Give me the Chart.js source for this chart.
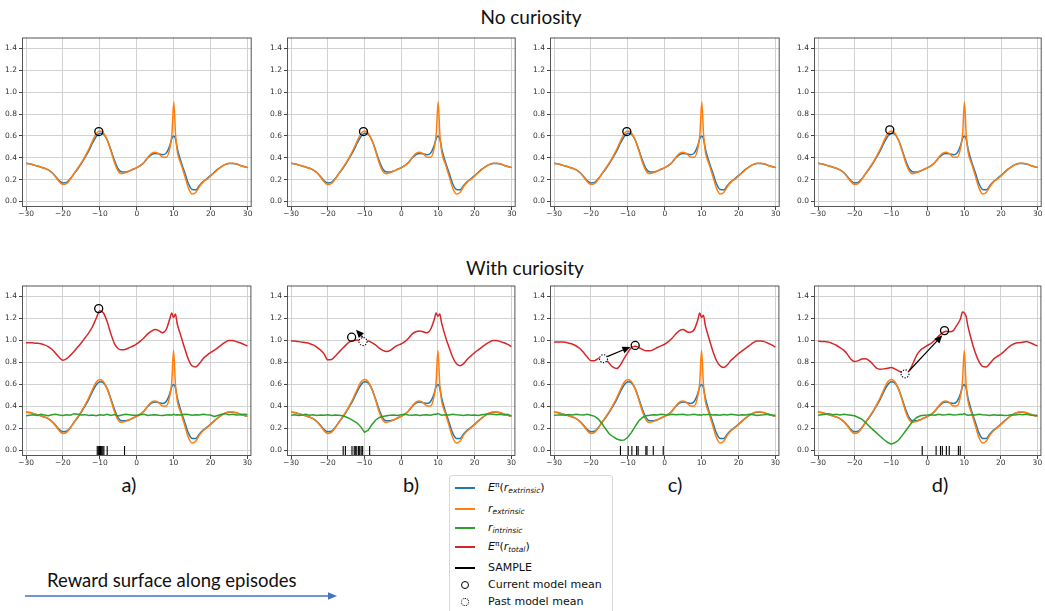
<!DOCTYPE html>
<html>
<head>
<meta charset="utf-8">
<script src="https://cdn.jsdelivr.net/npm/chart.js@4.4.1/dist/chart.umd.min.js"></script>
<style>
  body { margin:0; width:1045px; height:611px; overflow:hidden; background:#fff; position:relative; font-family:"DejaVu Sans", sans-serif; }
  .panel { position:absolute; }
  .big { position:absolute; font-family:Lato, "Open Sans", sans-serif; color:#111; white-space:nowrap; line-height:1; }
  .mid { transform:translateX(-50%); }
  #legend { position:absolute; left:449px; top:475px; width:164px; height:140px; border:1px solid #d8d8d8; border-radius:3px; background:#fff; box-sizing:border-box; }
  .row { position:absolute; left:0; font-size:11px; line-height:14px; color:#111; white-space:nowrap; }
  .row .h { position:absolute; left:5px; top:6px; width:20px; height:1.5px; }
  .row .t { position:absolute; left:38px; top:0; }
  .row .c { position:absolute; left:11px; top:3px; width:6px; height:6px; border-radius:50%; border:1.3px solid #000; }
  .row .c.dot { border-style:dotted; }
  sup, sub { font-size:7.5px; position:relative; vertical-align:baseline; }
  sup { top:-4px; }
  sub { top:2px; font-style:italic; }
</style>
</head>
<body>
<div class="big mid" style="left:531px;top:7px;font-size:19px">No curiosity</div>
<div class="big mid" style="left:525px;top:258px;font-size:19px">With curiosity</div>
<div class="big mid" style="left:129px;top:474px;font-size:20px">a)</div>
<div class="big mid" style="left:411px;top:474px;font-size:20px">b)</div>
<div class="big mid" style="left:675px;top:474px;font-size:20px">c)</div>
<div class="big mid" style="left:940px;top:474px;font-size:20px">d)</div>
<div class="big" style="left:47px;top:571px;font-size:18.5px">Reward surface along episodes</div>
<svg style="position:absolute;left:0;top:588px" width="345" height="16">
  <line x1="25" y1="8" x2="329" y2="8" stroke="#4472c4" stroke-width="1.3"/>
  <polygon points="337,8 328,4.3 328,11.7" fill="#4472c4"/>
</svg>

<div id="legend">
  <div class="row" style="top:5px"><div class="h" style="background:#1f77b4"></div><div class="t"><i>E</i><sup>π</sup>(<i>r</i><sub>extrinsic</sub>)</div></div>
  <div class="row" style="top:26px"><div class="h" style="background:#ff7f0e"></div><div class="t"><i>r</i><sub>extrinsic</sub></div></div>
  <div class="row" style="top:45px"><div class="h" style="background:#2ca02c"></div><div class="t"><i>r</i><sub>intrinsic</sub></div></div>
  <div class="row" style="top:64px"><div class="h" style="background:#d62728"></div><div class="t"><i>E</i><sup>π</sup>(<i>r</i><sub>total</sub>)</div></div>
  <div class="row" style="top:85px"><div class="h" style="background:#000"></div><div class="t">SAMPLE</div></div>
  <div class="row" style="top:102px"><div class="c"></div><div class="t">Current model mean</div></div>
  <div class="row" style="top:119px"><div class="c dot"></div><div class="t">Past model mean</div></div>
</div>

<script>
// abscissa shared by all curves (extra points around the spike at 10)
const xs = [-30,-29,-28,-27,-26,-25,-24,-23,-22,-21,
  -20,-19,-18,-17,-16,-15,-14,-13,-12,-11,
  -10,-9,-8,-7,-6,-5,-4,-3,-2,-1,
  0,1,2,3,4,5,6,7,8,9,
  9.5,10,10.5,
  11,12,13,14,15,16,17,18,19,20,
  21,22,23,24,25,26,27,28,29,30];

// E[r_extrinsic] (blue) and r_extrinsic (orange), same in every panel
const eExt = [0.350,0.345,0.335,0.325,0.315,0.305,0.290,0.265,0.230,0.190,
  0.170,0.175,0.210,0.255,0.300,0.350,0.405,0.465,0.535,0.595,
  0.625,0.615,0.560,0.470,0.370,0.295,0.270,0.270,0.280,0.295,
  0.310,0.330,0.360,0.400,0.430,0.440,0.435,0.428,0.445,0.520,
  0.580,0.600,0.570,
  0.480,0.360,0.260,0.160,0.110,0.108,0.150,0.185,0.210,0.240,
  0.270,0.298,0.322,0.340,0.348,0.348,0.342,0.330,0.320,0.310];
const rExt = [0.350,0.345,0.335,0.325,0.315,0.305,0.290,0.265,0.225,0.180,
  0.155,0.165,0.205,0.255,0.305,0.355,0.415,0.480,0.555,0.620,
  0.645,0.625,0.560,0.460,0.350,0.275,0.255,0.265,0.280,0.295,
  0.310,0.330,0.360,0.405,0.440,0.450,0.435,0.405,0.405,0.500,
  0.620,0.910,0.600,
  0.450,0.340,0.230,0.120,0.068,0.085,0.140,0.180,0.205,0.235,
  0.265,0.295,0.320,0.340,0.350,0.350,0.345,0.330,0.320,0.310];

// r_intrinsic (green) per panel a-d
const rIntA = [0.315,0.320,0.325,0.318,0.330,0.322,0.316,0.325,0.330,0.322,
  0.318,0.325,0.320,0.335,0.330,0.322,0.326,0.318,0.322,0.316,
  0.324,0.320,0.330,0.318,0.326,0.315,0.322,0.330,0.325,0.320,
  0.320,0.325,0.330,0.318,0.322,0.325,0.320,0.318,0.322,0.325,
  0.320,0.330,0.322,
  0.325,0.322,0.330,0.328,0.320,0.326,0.322,0.330,0.325,0.322,
  0.310,0.318,0.330,0.335,0.326,0.330,0.322,0.325,0.330,0.328];
const rIntB = [0.320,0.325,0.318,0.322,0.330,0.320,0.325,0.318,0.322,0.320,
  0.325,0.318,0.322,0.320,0.315,0.305,0.290,0.270,0.250,0.215,
  0.165,0.185,0.235,0.275,0.300,0.310,0.315,0.320,0.322,0.318,
  0.325,0.330,0.322,0.320,0.325,0.318,0.322,0.325,0.320,0.330,
  0.330,0.335,0.328,
  0.320,0.325,0.322,0.330,0.325,0.322,0.318,0.325,0.320,0.322,
  0.318,0.325,0.330,0.335,0.330,0.325,0.330,0.322,0.330,0.315];
const rIntC = [0.320,0.322,0.325,0.320,0.328,0.322,0.330,0.325,0.322,0.330,
  0.320,0.310,0.285,0.245,0.195,0.150,0.125,0.105,0.093,0.095,
  0.120,0.165,0.220,0.270,0.300,0.315,0.320,0.325,0.322,0.330,
  0.325,0.322,0.330,0.325,0.328,0.330,0.322,0.325,0.330,0.322,
  0.325,0.320,0.328,
  0.325,0.330,0.322,0.325,0.320,0.328,0.322,0.330,0.325,0.320,
  0.325,0.322,0.330,0.325,0.318,0.322,0.325,0.330,0.322,0.320];
const rIntD = [0.320,0.325,0.330,0.335,0.325,0.330,0.322,0.330,0.325,0.320,
  0.315,0.300,0.285,0.255,0.220,0.190,0.160,0.130,0.100,0.075,
  0.058,0.070,0.093,0.135,0.180,0.225,0.270,0.300,0.315,0.320,
  0.322,0.325,0.320,0.330,0.322,0.325,0.330,0.322,0.325,0.330,
  0.328,0.335,0.325,
  0.320,0.325,0.322,0.330,0.325,0.322,0.318,0.325,0.320,0.322,
  0.318,0.320,0.325,0.322,0.330,0.325,0.330,0.322,0.318,0.320];

// E[r_total] (red) per panel a-d
const eTotA = [0.980,0.980,0.978,0.975,0.970,0.960,0.945,0.920,0.885,0.845,
  0.820,0.835,0.865,0.900,0.940,0.980,1.025,1.070,1.125,1.200,
  1.270,1.250,1.170,1.060,0.970,0.925,0.915,0.920,0.935,0.950,
  0.970,0.995,1.025,1.060,1.085,1.100,1.090,1.070,1.100,1.200,
  1.250,1.210,1.240,
  1.150,1.040,0.930,0.830,0.770,0.760,0.790,0.835,0.865,0.890,
  0.910,0.935,0.960,0.985,1.000,1.000,0.990,0.980,0.965,0.950];
const eTotB = [0.997,0.995,0.990,0.985,0.980,0.973,0.960,0.940,0.913,0.878,
  0.824,0.827,0.857,0.893,0.928,0.960,0.990,1.000,1.005,0.994,
  0.990,0.995,0.980,0.960,0.930,0.910,0.900,0.910,0.935,0.955,
  0.970,0.990,1.020,1.060,1.080,1.087,1.080,1.070,1.100,1.190,
  1.250,1.220,1.240,
  1.160,1.040,0.940,0.850,0.790,0.770,0.790,0.830,0.860,0.890,
  0.915,0.940,0.965,0.985,1.000,1.000,0.990,0.980,0.965,0.945];
const eTotC = [0.987,0.987,0.986,0.985,0.975,0.966,0.950,0.927,0.890,0.850,
  0.817,0.817,0.838,0.846,0.829,0.790,0.757,0.745,0.778,0.838,
  0.890,0.936,0.948,0.936,0.918,0.906,0.906,0.918,0.936,0.951,
  0.966,0.990,1.020,1.060,1.090,1.100,1.080,1.075,1.100,1.190,
  1.250,1.210,1.230,
  1.140,1.020,0.910,0.820,0.770,0.755,0.780,0.820,0.850,0.880,
  0.905,0.930,0.955,0.980,0.995,0.995,0.990,0.975,0.960,0.940];
const eTotD = [0.993,0.992,0.990,0.985,0.972,0.957,0.936,0.912,0.876,0.829,
  0.808,0.817,0.832,0.835,0.817,0.784,0.748,0.739,0.742,0.748,
  0.754,0.742,0.724,0.709,0.697,0.727,0.793,0.868,0.912,0.936,
  0.957,0.975,1.005,1.040,1.070,1.085,1.080,1.090,1.140,1.200,
  1.260,1.250,1.220,
  1.130,1.000,0.890,0.810,0.765,0.760,0.790,0.830,0.855,0.875,
  0.905,0.935,0.960,0.975,0.980,0.985,0.990,0.980,0.965,0.950];

// sampled positions (black ticks on y = 0)
const sampA = [-10.7,-10.4,-10.1,-9.8,-9.5,-9.2,-8.9,-8.0,-3.3];
const sampB = [-15.8,-15.2,-13.4,-12.8,-12.5,-12.1,-11.6,-11.3,-10.9,-10.5,-8.6];
const sampC = [-12.0,-9.9,-8.9,-7.6,-7.2,-5.1,-4.8,-3.1,-0.4];
const sampD = [-1.5,2.3,3.5,4.0,5.1,5.9,8.4,8.9];

// model means [x, y]
const meanTop = [[-10.3,0.64],[-10.3,0.64],[-10.3,0.64],[-10.4,0.655]];
const meanNow = [[-10.3,1.29],[-13.5,1.03],[-8.0,0.955],[4.6,1.09]];
const meanPast = [null,[-10.4,0.99],[-16.6,0.835],[-6.2,0.697]];
const arrows = [null,[-10.4,1.027,-12.3,1.098],[-15.6,0.853,-9.3,0.942],[-5.0,0.727,4.0,1.047]];

const xTickStep = 10, yTickStep = 0.2;

// frame (plot area) boxes in page pixels
const cols = [[22,253],[287,517],[550,781],[814,1043]];
const rows = [[35,207],[283,456]];

const extras = {
  id: 'extras',
  afterDatasetsDraw(chart, args, o) {
    const {ctx, scales: {x, y}} = chart;
    ctx.save();
    ctx.strokeStyle = '#000';
    ctx.fillStyle = '#000';
    if (o.arrow) {
      const x0 = x.getPixelForValue(o.arrow[0]), y0 = y.getPixelForValue(o.arrow[1]);
      const x1 = x.getPixelForValue(o.arrow[2]), y1 = y.getPixelForValue(o.arrow[3]);
      const ang = Math.atan2(y1 - y0, x1 - x0), hl = 8, hw = 3.5;
      ctx.lineWidth = 1.2;
      ctx.beginPath();
      ctx.moveTo(x0, y0);
      ctx.lineTo(x1 - Math.cos(ang) * hl, y1 - Math.sin(ang) * hl);
      ctx.stroke();
      ctx.beginPath();
      ctx.moveTo(x1, y1);
      ctx.lineTo(x1 - Math.cos(ang) * hl - Math.sin(ang) * hw, y1 - Math.sin(ang) * hl + Math.cos(ang) * hw);
      ctx.lineTo(x1 - Math.cos(ang) * hl + Math.sin(ang) * hw, y1 - Math.sin(ang) * hl - Math.cos(ang) * hw);
      ctx.closePath();
      ctx.fill();
    }
    if (o.past) {
      ctx.lineWidth = 1.1;
      ctx.setLineDash([1.3, 1.4]);
      ctx.beginPath();
      ctx.arc(x.getPixelForValue(o.past[0]), y.getPixelForValue(o.past[1]), 4, 0, Math.PI * 2);
      ctx.fillStyle = '#fff';
      ctx.fill();
      ctx.stroke();
    }
    ctx.restore();
  },
  afterDraw(chart) {
    const {ctx, chartArea: a} = chart;
    ctx.save();
    ctx.strokeStyle = '#555';
    ctx.lineWidth = 1;
    ctx.strokeRect(a.left + 0.5, a.top + 0.5, a.right - a.left - 1, a.bottom - a.top - 1);
    ctx.restore();
  }
};

function curve(ys, color, order, smooth) {
  return {
    data: xs.map((x, i) => ({x: x, y: ys[i]})),
    borderColor: color, borderWidth: 1.5, pointRadius: 0, fill: false, order: order,
    tension: smooth ? 0.4 : 0, cubicInterpolationMode: smooth ? 'monotone' : 'default'
  };
}

function means(p) {
  return {
    data: [{x: p[0], y: p[1]}], showLine: false, order: 0,
    pointStyle: 'circle', pointRadius: 4, borderColor: '#000', borderWidth: 1.3,
    backgroundColor: 'rgba(0,0,0,0)'
  };
}

function samples(s) {
  return {
    data: s.map(v => ({x: v, y: 0})), showLine: false, order: 1,
    pointStyle: 'line', rotation: 90, pointRadius: 4.5, borderColor: '#000', borderWidth: 1.1
  };
}

const tickFont = {family: 'DejaVu Sans', size: 7.5};

function makePanel(col, row, datasets, opts) {
  const [fl, fr] = cols[col], [ft, fb] = rows[row];
  const padL = 24, padT = 4, padR = 4, padB = 14;
  const cv = document.createElement('canvas');
  cv.width = fr - fl + padL + padR;
  cv.height = fb - ft + padT + padB;
  cv.className = 'panel';
  cv.style.left = (fl - padL) + 'px';
  cv.style.top = (ft - padT) + 'px';
  document.body.appendChild(cv);
  new Chart(cv, {
    type: 'line',
    data: {datasets: datasets},
    plugins: [extras],
    options: {
      responsive: false, animation: false, events: [],
      layout: {padding: {top: padT, right: padR, left: 0, bottom: 0}},
      plugins: {legend: {display: false}, tooltip: {enabled: false}, extras: opts},
      scales: {
        x: {
          type: 'linear', min: -31.1, max: 31.1,
          afterFit: s => { s.height = padB; s.paddingLeft = 0; s.paddingRight = 0; },
          ticks: {stepSize: xTickStep, includeBounds: false, font: tickFont, color: '#333', padding: 0, maxRotation: 0,
            callback: v => (v < 0 ? '\u2212' : '') + Math.abs(v)},
          grid: {color: '#d2d2d2', lineWidth: 1, tickLength: 3, tickColor: '#444'},
          border: {display: false}
        },
        y: {
          type: 'linear', min: -0.05, max: 1.5,
          afterFit: s => { s.width = padL; },
          ticks: {stepSize: yTickStep, includeBounds: false, font: tickFont, color: '#333', padding: 2,
            callback: v => Math.abs(v).toFixed(1)},
          grid: {color: '#d2d2d2', lineWidth: 1, tickLength: 3, tickColor: '#444'},
          border: {display: false}
        }
      }
    }
  });
}

const blue = '#1f77b4', orange = '#ff7f0e', green = '#2ca02c', red = '#d62728';
const rInts = [rIntA, rIntB, rIntC, rIntD];
const eTots = [eTotA, eTotB, eTotC, eTotD];
const samps = [sampA, sampB, sampC, sampD];

for (let i = 0; i < 4; i++) {
  makePanel(i, 0, [
    curve(eExt, blue, 5, true),
    curve(rExt, orange, 4, true),
    means(meanTop[i])
  ], {});
  makePanel(i, 1, [
    curve(eExt, blue, 5, true),
    curve(rExt, orange, 4, true),
    curve(rInts[i], green, 3, false),
    curve(eTots[i], red, 2, true),
    samples(samps[i]),
    means(meanNow[i])
  ], {past: meanPast[i], arrow: arrows[i]});
}
</script>
</body>
</html>
